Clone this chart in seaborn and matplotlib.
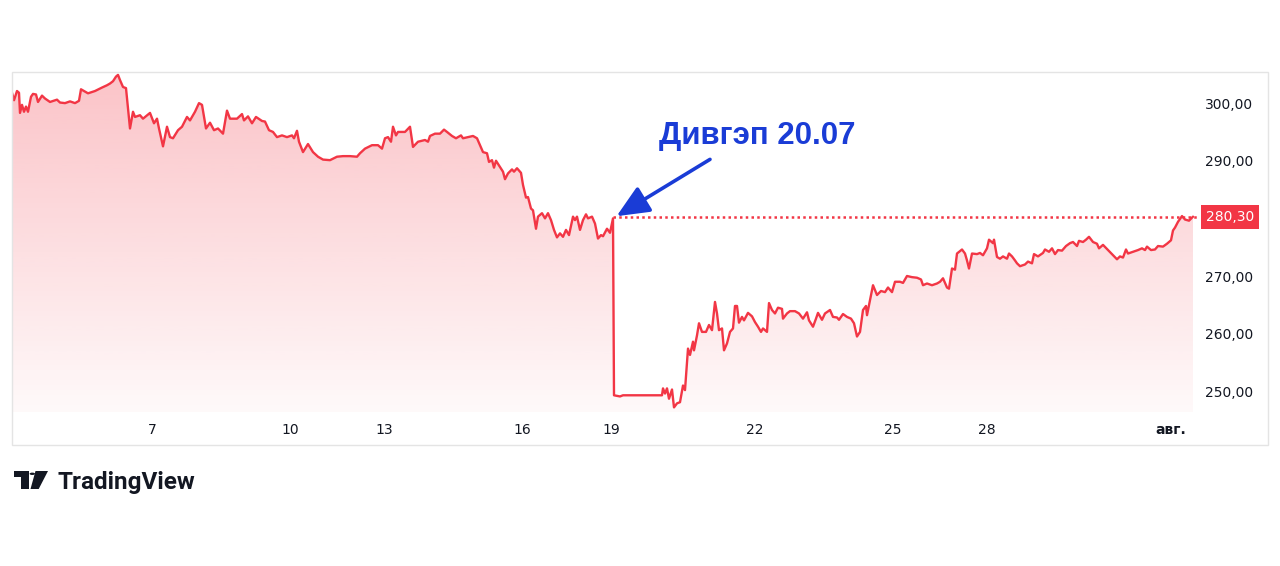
import numpy as np
import pandas as pd
import matplotlib
matplotlib.use("Agg")
import matplotlib.pyplot as plt
import seaborn as sns
from matplotlib.colors import LinearSegmentedColormap, to_rgb
from matplotlib.patches import Rectangle, Circle, Polygon
from matplotlib.ticker import FuncFormatter

# Price path: (bar number, price)
pre_gap = [
    (12, 301.8), (14, 300.5), (17, 302.1), (19, 301.8), (20, 298.3), (22, 299.7), (24, 298.5), (26, 299.4),
    (28, 298.5), (31, 301.1), (33, 301.6), (36, 301.5), (38, 300.2), (42, 301.3), (45, 300.8), (50, 300.2),
    (57, 300.6), (60, 300.1), (65, 300.0), (70, 300.3), (75, 300.0), (79, 300.4), (81, 302.4), (88, 301.7),
    (95, 302.1), (102, 302.7), (107, 303.1), (110, 303.4), (113, 303.8), (116, 304.6), (118, 304.9), (120, 304.0),
    (123, 302.8), (126, 302.6), (130, 295.6), (133, 298.5), (135, 297.6), (140, 297.9), (143, 297.3), (150, 298.3),
    (154, 296.5), (157, 297.3), (159, 295.6), (163, 292.5), (167, 295.9), (170, 294.1), (173, 293.9), (178, 295.3),
    (182, 295.9), (187, 297.6), (190, 297.0), (195, 298.5), (199, 300.0), (202, 299.7), (206, 295.6), (210, 296.6),
    (214, 295.3), (218, 295.6), (223, 294.7), (227, 298.7), (230, 297.3), (237, 297.3), (242, 298.1), (244, 297.0),
    (248, 297.7), (252, 296.5), (256, 297.6), (262, 296.9), (265, 296.8), (269, 295.3), (273, 295.0), (277, 294.1),
    (282, 294.4), (287, 294.1), (292, 294.4), (294, 293.9), (297, 295.2), (299, 293.3), (303, 291.5), (308, 292.9),
    (313, 291.5), (318, 290.7), (323, 290.2), (330, 290.1), (337, 290.7), (343, 290.8), (350, 290.8), (357, 290.7),
    (360, 291.3), (365, 292.1), (372, 292.7), (378, 292.7), (382, 292.1), (385, 293.9), (388, 294.1), (391, 293.3),
    (393, 295.9), (396, 294.4), (398, 295.0), (405, 295.0), (410, 295.9), (413, 292.4), (418, 293.3), (425, 293.6),
    (428, 293.3), (430, 294.3), (435, 294.7), (440, 294.7), (444, 295.4), (447, 295.0), (452, 294.3), (456, 293.9),
    (461, 294.4), (463, 293.9), (468, 294.1), (473, 294.3), (477, 293.9), (480, 292.7), (483, 291.5), (487, 291.3),
    (489, 289.8), (492, 290.1), (494, 288.8), (496, 290.0), (499, 289.2), (503, 288.1), (505, 286.8), (508, 287.8),
    (512, 288.5), (514, 288.1), (517, 288.7), (521, 287.9), (523, 285.8), (526, 283.6), (528, 283.7), (531, 281.7),
    (533, 281.4), (536, 278.2), (538, 280.3), (542, 280.9), (545, 280.0), (548, 280.9), (551, 279.7), (554, 278.0),
    (557, 276.7), (560, 277.4), (563, 276.8), (566, 278.0), (569, 277.1), (573, 280.3), (575, 279.7), (577, 280.3),
    (580, 278.0), (583, 279.7), (586, 280.7), (588, 280.0), (592, 280.3), (595, 279.1), (598, 276.5), (601, 277.1),
    (603, 276.9), (607, 278.2), (610, 277.5), (613, 280.0),
]
post_gap = [
    (614, 249.3), (620, 249.1), (623, 249.3), (662, 249.3), (663, 250.5), (665, 249.6), (667, 250.5), (669, 248.7),
    (672, 250.3), (674, 247.2), (677, 247.9), (680, 248.1), (683, 251.0), (685, 250.2), (688, 257.4), (690, 256.3),
    (693, 258.6), (694, 257.1), (697, 259.7), (699, 261.8), (702, 260.3), (706, 260.3), (709, 261.5), (712, 260.6),
    (715, 265.5), (717, 263.5), (719, 260.6), (722, 260.9), (724, 257.1), (727, 258.3), (730, 260.3), (733, 260.9),
    (735, 264.8), (737, 264.8), (739, 261.9), (742, 262.9), (744, 262.3), (748, 263.6), (752, 263.0), (755, 262.0),
    (758, 261.2), (761, 260.3), (763, 260.9), (767, 260.3), (769, 265.3), (772, 264.1), (775, 263.5), (778, 264.5),
    (782, 264.3), (783, 262.6), (787, 263.5), (790, 263.9), (795, 263.9), (799, 263.5), (803, 262.6), (807, 263.7),
    (809, 262.3), (813, 261.2), (816, 262.6), (818, 263.6), (822, 262.4), (825, 263.5), (830, 264.1), (833, 262.9),
    (837, 262.8), (839, 262.4), (843, 263.4), (847, 262.9), (851, 262.6), (854, 261.8), (857, 259.5), (860, 260.3),
    (863, 264.1), (866, 264.8), (867, 263.2), (870, 265.8), (873, 268.4), (877, 266.7), (881, 267.4), (885, 267.2),
    (888, 268.0), (892, 267.2), (895, 269.0), (900, 269.0), (903, 268.8), (907, 270.0), (912, 269.8), (917, 269.7),
    (921, 269.4), (923, 268.4), (927, 268.7), (932, 268.4), (937, 268.7), (940, 269.0), (943, 269.6), (947, 268.0),
    (949, 267.8), (952, 271.3), (955, 271.1), (957, 273.9), (962, 274.6), (965, 273.9), (967, 272.7), (969, 271.3),
    (972, 273.9), (977, 273.8), (980, 274.0), (983, 273.6), (987, 274.8), (989, 276.3), (993, 275.7), (994, 276.3),
    (997, 273.3), (1000, 273.0), (1003, 273.4), (1007, 273.0), (1009, 273.9), (1012, 273.4), (1015, 272.7), (1017, 272.2),
    (1020, 271.7), (1025, 272.0), (1028, 272.5), (1032, 272.2), (1034, 273.8), (1038, 273.4), (1043, 274.0), (1045, 274.6),
    (1049, 274.2), (1052, 274.8), (1055, 273.8), (1058, 274.5), (1062, 274.4), (1066, 275.2), (1070, 275.7), (1073, 275.9),
    (1077, 275.2), (1079, 276.1), (1083, 275.9), (1086, 276.3), (1089, 276.8), (1093, 275.9), (1097, 275.6), (1099, 274.8),
    (1103, 275.4), (1108, 274.5), (1113, 273.6), (1117, 272.9), (1120, 273.4), (1123, 273.2), (1126, 274.6), (1128, 273.9),
    (1133, 274.2), (1138, 274.5), (1142, 274.8), (1145, 274.5), (1147, 275.1), (1151, 274.5), (1155, 274.6), (1158, 275.2),
    (1163, 275.1), (1167, 275.6), (1171, 276.2), (1173, 277.9), (1175, 278.4), (1178, 279.4), (1182, 280.4), (1185, 279.8),
    (1189, 279.6), (1193, 280.3),
]

day_ticks = [152, 290, 384, 522, 611, 755, 893, 987, 1171]
day_labels = ["7", "10", "13", "16", "19", "22", "25", "28", "авг."]
price_ticks = [250, 260, 270, 290, 300]   # 280 sits under the last-price tag
last_price = 280.30
note = "Дивгэп 20.07"

RED = "#f23645"
BLUE = "#1a3cd6"
TEXT = "#131722"
W, H = 1280, 566
X_RANGE = (12, 1197)
Y_RANGE = (246.4, 305.4)

sns.set_theme(style="white")
plt.rcParams["font.family"] = ["DejaVu Sans"]

df = pd.DataFrame(pre_gap + post_gap, columns=["bar", "price"])

fig = plt.figure(figsize=(W / 100, H / 100), dpi=100)
ax = fig.add_axes([12 / W, 1 - 412 / H, (1197 - 12) / W, (412 - 72) / H])

# light frame round the whole chart pane
fig.add_artist(Rectangle((12 / W, 1 - 445 / H), 1256 / W, 373 / H, transform=fig.transFigure,
                         fill=False, ec="#e4e4e4", lw=1))

# vertical gradient, clipped to the area under the price line
rgb = to_rgb(RED)
cmap = LinearSegmentedColormap.from_list("area", [(*rgb, 0.03), (*rgb, 0.30)])
grad = np.linspace(0, 1, 256).reshape(-1, 1)
im = ax.imshow(grad, extent=[*X_RANGE, *Y_RANGE], origin="lower", aspect="auto", cmap=cmap, zorder=1)
area = ax.fill_between(df["bar"], df["price"], Y_RANGE[0], color="none", lw=0)
im.set_clip_path(area.get_paths()[0], transform=ax.transData)

sns.lineplot(data=df, x="bar", y="price", color=RED, lw=1.7, estimator=None, sort=False, ax=ax, zorder=3)

# last price line from the gap onwards
gap_bar, gap_price = pre_gap[-1]
ax.axhline(last_price, xmin=(gap_bar - X_RANGE[0]) / (X_RANGE[1] - X_RANGE[0]), xmax=1,
           color=RED, lw=1.8, ls=(0, (1, 1.3)), zorder=2)
ax.annotate(f"{last_price:.2f}".replace(".", ","), xy=(1, last_price), xycoords=("axes fraction", "data"),
            xytext=(9, 0), textcoords="offset pixels", ha="left", va="center", color="white", fontsize=10,
            bbox=dict(boxstyle="square,pad=0.35", fc=RED, ec="none"), annotation_clip=False, zorder=6)

# dividend gap callout
ax.annotate("", xy=(gap_bar, gap_price), xytext=(97, 59), textcoords="offset pixels",
            arrowprops=dict(arrowstyle="-|>,head_length=0.9,head_width=0.4", color=BLUE, lw=2.6,
                            shrinkA=0, shrinkB=3, mutation_scale=22), zorder=5)
ax.annotate(note, xy=(gap_bar, gap_price), xytext=(144, 82), textcoords="offset pixels",
            ha="center", va="center", fontsize=22.5, fontweight="bold", color=BLUE,
            family=["Liberation Sans", "DejaVu Sans"], zorder=5)

ax.set_xlim(X_RANGE)
ax.set_ylim(Y_RANGE)
ax.set_xticks(day_ticks, day_labels)
ax.set_yticks(price_ticks)
ax.yaxis.tick_right()
ax.yaxis.set_major_formatter(FuncFormatter(lambda v, p: f"{v:.2f}".replace(".", ",")))
ax.tick_params(axis="x", length=0, pad=8, labelsize=10, labelcolor=TEXT)
ax.tick_params(axis="y", length=0, pad=6, labelsize=10, labelcolor=TEXT)
ax.get_xticklabels()[-1].set_fontweight("bold")
ax.set_xlabel("")
ax.set_ylabel("")
ax.grid(False)
for s in ax.spines.values():
    s.set_visible(False)


def fx(x, y):
    return x / W, 1 - y / H


# TradingView logo + wordmark
fig.add_artist(Rectangle(fx(14, 477), 15 / W, 6 / H, transform=fig.transFigure, fc="#131722", ec="none"))
fig.add_artist(Rectangle(fx(21, 489), 8 / W, 18 / H, transform=fig.transFigure, fc="#131722", ec="none"))
fig.add_artist(Circle(fx(32.3, 473.8), 2.7 / W, transform=fig.transFigure, fc="#131722", ec="none"))
fig.add_artist(Polygon([fx(35.5, 471), fx(48, 471), fx(38.7, 489), fx(30.5, 489)],
                       transform=fig.transFigure, fc="#131722", ec="none"))
fig.text(57 / W, 1 - 488.7 / H, "TradingView", fontsize=17.5, fontweight="bold", color="#131722",
         family=["Roboto", "DejaVu Sans"], va="baseline", ha="left")

fig.savefig("out.png", dpi=100)
